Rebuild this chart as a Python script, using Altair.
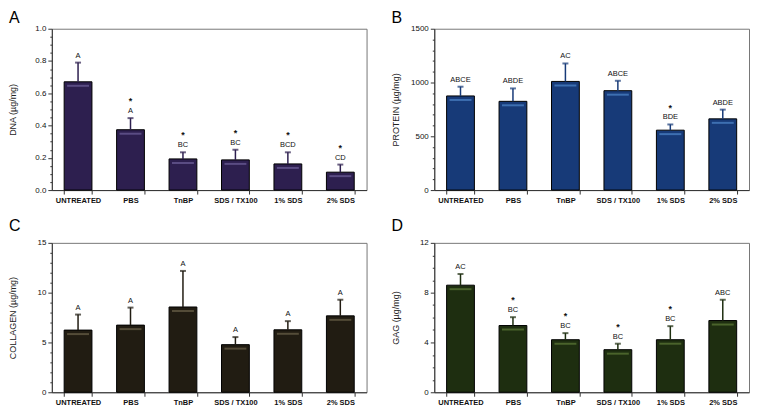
import altair as alt
import pandas as pd

categories = ["UNTREATED", "PBS", "TnBP", "SDS / TX100", "1% SDS", "2% SDS"]

dna_mean = [0.671, 0.374, 0.193, 0.187, 0.162, 0.111]
dna_upper = [0.790, 0.446, 0.234, 0.250, 0.234, 0.158]
dna_letters = ["A", "A", "BC", "BC", "BCD", "CD"]
dna_stars = ["", "*", "*", "*", "*", "*"]

protein_mean = [875, 825, 1010, 924, 557, 662]
protein_upper = [961, 945, 1177, 1016, 610, 748]
protein_letters = ["ABCE", "ABDE", "AC", "ABCE", "BDE", "ABDE"]
protein_stars = ["", "", "", "", "*", ""]

collagen_mean = [6.24, 6.74, 8.56, 4.78, 6.27, 7.67]
collagen_upper = [7.80, 8.50, 12.18, 5.54, 7.14, 9.29]
collagen_letters = ["A", "A", "A", "A", "A", "A"]
collagen_stars = ["", "", "", "", "", ""]

gag_mean = [8.60, 5.36, 4.22, 3.42, 4.22, 5.76]
gag_upper = [9.50, 6.03, 4.75, 3.90, 5.31, 7.43]
gag_letters = ["AC", "BC", "BC", "BC", "BC", "ABC"]
gag_stars = ["", "*", "*", "*", "*", ""]

FONT = "Liberation Sans"


def panel(letter, ytitle, mean, upper, letters, stars, ymax, major, minor, fmt,
          fill, highlight, height, title_offset):
    df = pd.DataFrame({"cat": categories, "mean": mean, "upper": upper,
                       "letters": letters, "stars": stars})
    nminor = int(round(ymax / minor))
    tick_vals = [round(i * minor, 6) for i in range(nminor + 1)]
    is_major = f"abs(datum.value/{major} - round(datum.value/{major})) < 0.001"
    x = alt.X("cat:N", sort=categories, title=None,
              scale=alt.Scale(paddingInner=0.47, paddingOuter=0.235),
              axis=alt.Axis(labelAngle=0, tickBand="extent", labelFontSize=7.5,
                            labelFontWeight="bold", labelColor="#111",
                            labelFont=FONT, tickSize=4, labelPadding=2,
                            tickColor="#333", domainColor="#333"))
    yscale = alt.Scale(domain=[0, ymax], nice=False, zero=True)
    yaxis = alt.Axis(values=tick_vals, labelOverlap=False,
                     labelExpr=f"{is_major} ? format(datum.value, '{fmt}') : ''",
                     tickSize={"condition": {"test": is_major, "value": 4}, "value": 2},
                     labelFontSize=8, labelColor="#111", labelFont=FONT,
                     labelPadding=2, minExtent=22, maxExtent=22,
                     titleFontSize=9, titleFontWeight="normal", titleFont=FONT,
                     titleColor="#222", titlePadding=12,
                     tickColor="#333", domainColor="#333", grid=False)

    def Y(field):
        return alt.Y(field, title=ytitle, scale=yscale, axis=yaxis)

    base = alt.Chart(df)
    bars = base.mark_bar(color=fill, stroke="black", strokeWidth=1).encode(
        x=x, y=Y("mean:Q"))
    shine = base.mark_tick(color=highlight, size=22, thickness=2, yOffset=4).encode(
        x=x, y=Y("mean:Q"))
    err = base.mark_rule(color=fill, strokeWidth=1.5).encode(
        x=x, y=Y("mean:Q"), y2="upper:Q")
    cap = base.mark_tick(color=fill, size=6, thickness=2).encode(x=x, y=Y("upper:Q"))
    lab = base.mark_text(font=FONT, fontSize=7.5, color="#111", baseline="alphabetic",
                         dy=-5).encode(x=x, y=Y("upper:Q"), text="letters:N")
    star = base.mark_text(font=FONT, fontSize=9, fontWeight="bold", color="#111",
                          baseline="alphabetic", dy=-14).encode(
        x=x, y=Y("upper:Q"), text="stars:N")
    return alt.layer(bars, shine, err, cap, lab, star).properties(
        width=316, height=height,
        title=alt.TitleParams(letter, anchor="start", frame="bounds", fontSize=16,
                              fontWeight="normal", font=FONT, color="black",
                              offset=title_offset))


pA = panel("A", "DNA (µg/mg)", dna_mean, dna_upper, dna_letters, dna_stars,
           1.0, 0.2, 0.05, ".1f", "#2d1f4f", "#6e5f9a", 162, -1)
pB = panel("B", "PROTEIN (µg/mg)", protein_mean, protein_upper, protein_letters,
           protein_stars, 1500, 500, 100, "d", "#173a78", "#4f86c9", 162, -1)
pC = panel("C", "COLLAGEN (µg/mg)", collagen_mean, collagen_upper, collagen_letters,
           collagen_stars, 15, 5, 1, "d", "#211c12", "#6b6148", 150, 5)
pD = panel("D", "GAG (µg/mg)", gag_mean, gag_upper, gag_letters, gag_stars,
           12, 4, 1, "d", "#1e2e10", "#5d7a38", 150, 5)

chart = alt.concat(pA, pB, pC, pD, columns=2,
                   spacing={"row": 13, "column": 23}).properties(
    padding=0, background="white"
).configure_view(stroke="#777", strokeWidth=1).configure_axis(labelOverlap=False)

chart.save("out.html", embed_options={"renderer": "svg", "actions": False})
